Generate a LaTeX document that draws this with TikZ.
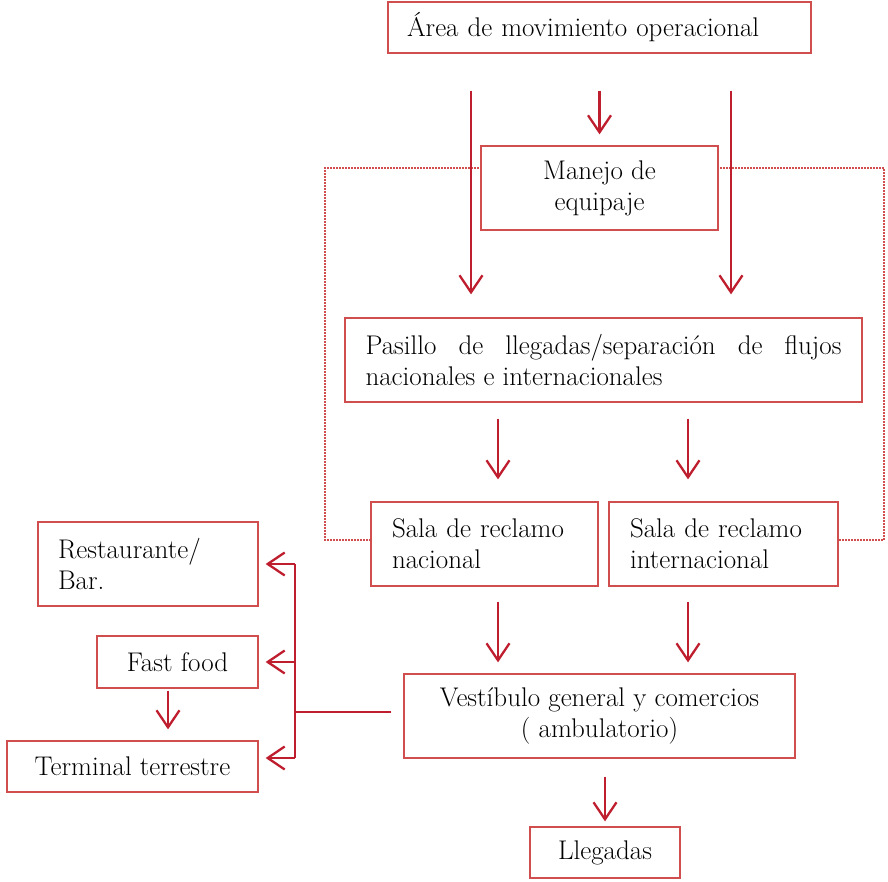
\documentclass[tikz,border=0pt]{standalone}
\usepackage{fontspec}
\usetikzlibrary{arrows.meta}
\definecolor{cajarojo}{RGB}{208,78,78}
\definecolor{flecharojo}{RGB}{190,30,45}

\begin{document}
\begin{tikzpicture}[x=1pt, y=-1pt,
		caja/.style={draw=cajarojo, line width=1.3pt, fill=white, inner sep=0pt,
			font=\fontsize{27}{31}\selectfont},
		flecha/.style={draw=flecharojo, line width=2.3pt,
			-{Straight Barb[length=17pt, width=23pt, line width=2.3pt]}},
		linea/.style={draw=flecharojo, line width=2.3pt},
		punteado/.style={draw=cajarojo, line width=1.4pt, dash pattern=on 1.6pt off 1.4pt}]
		\useasboundingbox (0,0) rectangle (888,882);
		% zona de reclamo (punteado)
		\draw[punteado] (371,540) -| (325,168) -| (884,540) -- (838,540);
		%
		\node[caja, minimum width=423pt, minimum height=51pt, text width=385pt, align=left] (area) at (599.5,27.5) {Área de movimiento operacional};
		\node[caja, minimum width=237pt, minimum height=84pt, align=center] (manejo) at (599.5,188) {Manejo de\\equipaje};
		\node[caja, minimum width=517pt, minimum height=84pt, text width=476pt, align=justify] (pasillo) at (603.5,360) {Pasillo de llegadas/separación de flujos\linebreak nacionales e internacionales};
		\node[caja, minimum width=227pt, minimum height=84pt, text width=185pt, align=left] (salanac) at (484.5,544) {Sala de reclamo\\nacional};
		\node[caja, minimum width=229pt, minimum height=84pt, text width=187pt, align=left] (salaint) at (723.5,544) {Sala de reclamo\\internacional};
		\node[caja, minimum width=391pt, minimum height=84pt, align=center] (vestibulo) at (599.5,716) {Vestíbulo general y comercios\\( ambulatorio)};
		\node[caja, minimum width=150pt, minimum height=51pt] (llegadas) at (605,852.5) {Llegadas};
		%
		\node[caja, minimum width=220pt, minimum height=84pt, text width=180pt, align=left] (restaurante) at (148,564) {Restaurante/\\Bar.};
		\node[caja, minimum width=161pt, minimum height=52pt] (fastfood) at (177.5,662) {Fast food};
		\node[caja, minimum width=251pt, minimum height=51pt] (terminal) at (132.5,766.5) {Terminal terrestre};
		%
		\draw[flecha, shorten <=37pt, shorten >=23pt] ([xshift=-128.5pt]area.south) -- ([xshift=-128.5pt]area.south |- pasillo.north);
		\draw[flecha, shorten <=37pt, shorten >=11pt] (area.south) -- (manejo.north);
		\draw[flecha, shorten <=37pt, shorten >=23pt] ([xshift=131.5pt]area.south) -- ([xshift=131.5pt]area.south |- pasillo.north);
		%
		\draw[flecha, shorten <=16pt, shorten >=22pt] ([xshift=13.5pt]salanac.north |- pasillo.south) -- ([xshift=13.5pt]salanac.north);
		\draw[flecha, shorten <=16pt, shorten >=22pt] ([xshift=-35.5pt]salaint.north |- pasillo.south) -- ([xshift=-35.5pt]salaint.north);
		\draw[flecha, shorten <=15pt, shorten >=11pt] ([xshift=13.5pt]salanac.south) -- ([xshift=13.5pt]salanac.south |- vestibulo.north);
		\draw[flecha, shorten <=15pt, shorten >=11pt] ([xshift=-35.5pt]salaint.south) -- ([xshift=-35.5pt]salaint.south |- vestibulo.north);
		\draw[flecha, shorten <=18pt, shorten >=5pt] (llegadas.north |- vestibulo.south) -- (llegadas.north);
		%
		\coordinate (bus) at (295,712);
		\draw[linea, shorten <=12pt] ([yshift=4pt]vestibulo.west) -- (bus);
		\draw[linea] (bus |- restaurante.east) -- ([yshift=8.5pt]terminal.east -| bus);
		\draw[flecha, shorten >=7pt] (bus |- restaurante.east) -- (restaurante.east);
		\draw[flecha, shorten >=7pt] (bus |- fastfood.east) -- (fastfood.east);
		\draw[flecha, shorten >=7pt] ([yshift=8.5pt]terminal.east -| bus) -- ([yshift=8.5pt]terminal.east);
		\draw[flecha, shorten <=2pt, shorten >=11pt] ([xshift=-9.5pt]fastfood.south) -- ([xshift=-9.5pt]fastfood.south |- terminal.north);
	\end{tikzpicture}
\end{document}
